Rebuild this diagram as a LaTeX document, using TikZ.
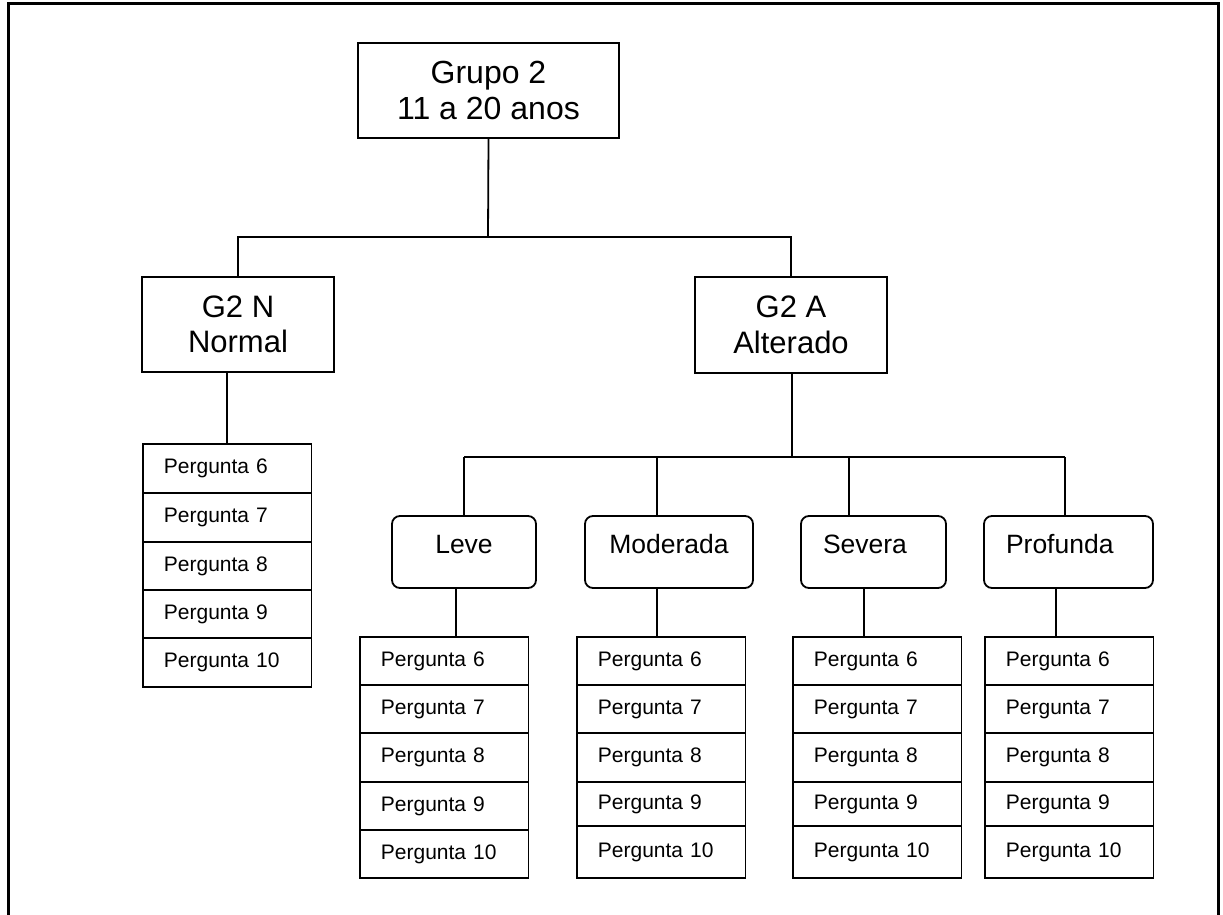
\documentclass[tikz,border=0pt]{standalone}
\usepackage{fontspec}
\setmainfont{Liberation Sans}
\newcommand{\qstack}[3]{%
  \foreach \t/\b [count=\k from 6] in {#3} {
    \node[rowbox, minimum height={\b-\t}] (#1\k) at (#2,\t) {Pergunta \k};
  }%
}
\begin{document}
\begin{tikzpicture}[x=1pt,y=-1pt,
  line width=1.8pt,
  bigbox/.style={draw, rectangle, align=center, inner sep=0pt,
    font=\fontsize{31}{35.5}\selectfont},
  softbox/.style={draw, rounded corners=8pt, inner xsep=0pt, inner ysep=18pt,
    text height=19pt, text depth=17pt, font=\fontsize{26.5}{30}\selectfont},
  softleft/.style={softbox, inner xsep=22pt, align=left},
  rowbox/.style={draw, rectangle, anchor=north west, inner xsep=21pt, inner ysep=0pt,
    text width=126.5pt, align=left, text height=15pt, text depth=4.5pt,
    font=\fontsize{21}{24}\selectfont},
  link/.style={line width=1.8pt},
  frame/.style={line width=3pt}
]
\useasboundingbox (0,0) rectangle (1223,915);
\draw[frame] (8,920) -- (8,4) -- (1218,4) -- (1218,920);

% top level
\node[bigbox, minimum width=261pt, minimum height=95pt,
  font=\fontsize{32}{35.5}\selectfont] (top) at (488.5,90.5) {Grupo 2\\11 a 20 anos};
\node[bigbox, minimum width=192pt, minimum height=95pt] (g2n) at (238,324.5) {G2 N\\Normal};
\node[bigbox, minimum width=192pt, minimum height=96pt] (g2a) at (791,325) {G2 A\\Alterado};

\coordinate (b1) at (488,237);
\draw[link] (top.south) -- (b1);
\draw[link] (g2n.north) -- (g2n.north |- b1) -- (g2a.north |- b1) -- (g2a.north);

% severity boxes
\node[softbox, minimum width=144pt] (leve) at (464,552) {Leve};
\node[softbox, minimum width=168pt] (mod) at (669,552) {Moderada};
\node[softleft, text width=101pt] (sev) at (873.5,552) {Severa};
\node[softleft, text width=125pt] (pro) at (1068.5,552) {Profunda};

\coordinate (b2) at (792,457);
\coordinate (c1) at (464,457);
\coordinate (c2) at (657,457);
\coordinate (c3) at (849,457);
\coordinate (c4) at (1065,457);
\draw[link] (g2a.south -| b2) -- (b2);
\draw[link] (c1) -- (c4);
\draw[link] (c1) -- (c1 |- leve.north);
\draw[link] (c2) -- (c2 |- mod.north);
\draw[link] (c3) -- (c3 |- sev.north);
\draw[link] (c4) -- (c4 |- pro.north);

% question stacks
\qstack{n}{142}{443/492,492/541,541/589,589/637,637/686}
\qstack{l}{359}{636/684,684/732,732/781,781/829,829/877}
\qstack{m}{576}{636/684,684/732,732/781,781/825,825/877}
\qstack{s}{792}{636/684,684/732,732/781,781/825,825/877}
\qstack{p}{984}{636/684,684/732,732/781,781/825,825/877}

\coordinate (d1) at (456,0);
\coordinate (d2) at (657,0);
\coordinate (d3) at (864,0);
\coordinate (d4) at (1056,0);
\draw[link] (n6.north) -- (n6.north |- g2n.south);
\draw[link] (leve.south -| d1) -- (l6.north -| d1);
\draw[link] (mod.south -| d2) -- (m6.north -| d2);
\draw[link] (sev.south -| d3) -- (s6.north -| d3);
\draw[link] (pro.south -| d4) -- (p6.north -| d4);
\end{tikzpicture}
\end{document}
